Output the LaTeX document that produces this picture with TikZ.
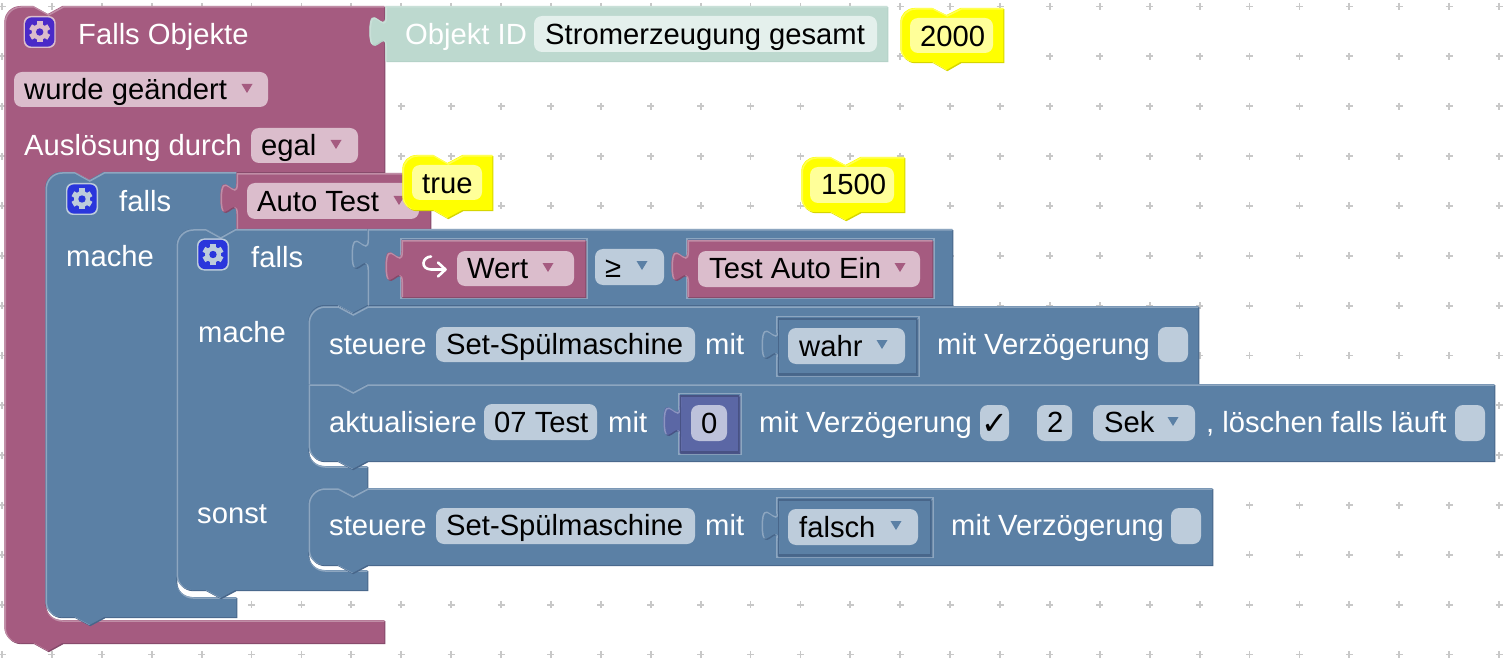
\documentclass[tikz,border=0pt]{standalone}
\usepackage{fontspec}
\setmainfont{Liberation Sans}
\newfontfamily\symfont{DejaVu Sans}
\definecolor{pur}{HTML}{A55B80}\definecolor{purD}{HTML}{84496A}\definecolor{purL}{HTML}{C08DA6}\definecolor{purF}{HTML}{DBBDCC}
\definecolor{blu}{HTML}{5B80A5}\definecolor{bluD}{HTML}{48668A}\definecolor{bluL}{HTML}{8DA6C0}\definecolor{bluF}{HTML}{BDCCDB}
\definecolor{num}{HTML}{5B67A5}\definecolor{numD}{HTML}{485284}\definecolor{numL}{HTML}{8C95C0}\definecolor{numF}{HTML}{BDC2DB}
\definecolor{obj}{HTML}{BDD9CF}\definecolor{objD}{HTML}{B5D2C8}\definecolor{objL}{HTML}{C9E0D8}\definecolor{objF}{HTML}{E4F0EC}
\definecolor{yel}{HTML}{FFFF00}\definecolor{yelD}{HTML}{D6D600}\definecolor{yelL}{HTML}{FFFF55}\definecolor{yelF}{HTML}{FFFF99}
\definecolor{tileA}{HTML}{4A2AC8}\definecolor{tileB}{HTML}{2A36DC}\definecolor{gridc}{HTML}{C8C8C8}
\newcount\nc
\newcommand\blk[2]{%
  \fill[#1D,shift={(0.3,1.2)}] #2;
  \begin{scope}[shift={(-0.7,0)}]
  \fill[#1] #2;
  \begin{scope}\clip #2; \draw[#1L,line width=1.5,shift={(1,1)}] #2; \end{scope}
  \end{scope}}
% corner pieces
\newcommand\TL[3]{(#1,#2+#3) .. controls (#1,#2+#3*.45) and (#1+#3*.45,#2) .. (#1+#3,#2)}
\newcommand\BL[3]{(#1+#3,#2) .. controls (#1+#3*.45,#2) and (#1,#2-#3*.45) .. (#1,#2-#3)}
\newcommand\MC[3]{(#1,#2-#3) .. controls (#1,#2-#3*.45) and (#1+#3*.45,#2) .. (#1+#3,#2)}
\newcommand\MT[3]{(#1+#3,#2) .. controls (#1+#3*.45,#2) and (#1,#2+#3*.45) .. (#1,#2+#3)}
\newcommand\tabup[2]{(#1,#2+29.7) .. controls (#1,#2+8.7) and (#1-16,#2+46.5) .. (#1-16,#2+14) .. controls (#1-16,#2-18.5) and (#1,#2+19.2) .. (#1,#2-1.7)}
\newcommand\txt[4][white]{\global\advance\nc by 1 \node[lbl,text=#1] (n\the\nc) at (#2,#3) {#4};}
\newcommand\fld[5]{\fill[#1F,rounded corners=8] (#2,#4) rectangle (#3,#5);}
\newcommand\arr[3]{\fill[#1] (#2-5.5,#3) -- (#2+5.5,#3) -- (#2,#3+9) -- cycle;}
\newcommand\gear[4]{%
  \fill[#4,rounded corners=7] (#1-16,#2-16) rectangle (#1+16,#2+16);
  \fill[#3,rounded corners=7] (#1-14.7,#2-14.7) rectangle (#1+14.7,#2+14.7);
  \foreach \a in {0,60,120} {\fill[#4,rotate around={\a:(#1,#2)}] (#1-2.8,#2-10.5) rectangle (#1+2.8,#2+10.5);}
  \fill[#4] (#1,#2) circle (8);
  \fill[#3] (#1,#2) circle (3.7);}
\newcommand\slot[4]{\draw[bluL,line width=1.5] (#1-1,#2-1.5) rectangle (#3+1,#4+1.5);}
\newcommand\inner[5]{\draw[#1,line width=1.1] (#2+.4,#3+1) rectangle (#4-1.4,#5-1);}
\tikzset{lbl/.style={anchor=base west,inner sep=0pt,font=\fontsize{29.2}{29.2}\selectfont}}
\begin{document}
\begin{tikzpicture}[x=1pt,y=-1pt]
\useasboundingbox (0,0) rectangle (1503,660);
\fill[white] (0,0) rectangle (1503,660);
% grid
\foreach \i in {0,...,30} \foreach \j in {0,...,13} {
  \draw[gridc,line width=1.8] ({2+49.9*\i-3.5},{6.5+49.85*\j}) -- ({2+49.9*\i+3.5},{6.5+49.85*\j});
  \draw[gridc,line width=1.8] ({2+49.9*\i},{6.5+49.85*\j-3.5}) -- ({2+49.9*\i},{6.5+49.85*\j+3.5});
}
% outer hat block
\blk{pur}{\TL{5}{6}{16} -- (34,6) -- (48.5,14) -- (63,6) -- (385,6) -- (385,172) -- (105,172) -- (90,180) -- (75,172) -- \MT{46}{172}{16} -- \MC{46}{620}{16} -- (385,620) -- (385,643) -- (63,643) -- (48.5,651) -- (34,643) -- \BL{5}{643}{16} -- cycle}
% Objekt ID
\blk{obj}{(386,6) -- (888,6) -- (888,61) -- (386,61) -- \tabup{386}{17} -- cycle}
\gear{39.7}{32}{tileA}{purF}
\txt{78}{45}{Falls Objekte}
\txt{405}{45}{Objekt ID}
\fld{obj}{534}{877}{16}{52}\txt[black]{545}{45}{Stromerzeugung gesamt}
\fld{pur}{14}{268}{72}{107}\txt[black]{24}{100}{wurde geändert}\arr{pur}{247}{84}
\txt{24}{156}{Auslösung durch}
\fld{pur}{251}{358}{128}{163}\txt[black]{261}{156}{egal}\arr{pur}{336}{140}
% falls 1
\blk{blu}{\TL{46}{172}{16} -- (75,172) -- (89.5,180) -- (104,172) -- (237,172) -- (237,229) -- (235,229) -- (220.5,237) -- (206,229) -- \MT{177}{229}{16} -- \MC{177}{597}{16} -- (237,597) -- (237,617) -- (105,617) -- (90,625) -- (75,617) -- \BL{46}{617}{16} -- cycle}
\blk{pur}{(237,173) -- (431,173) -- (431,229) -- (237,229) -- \tabup{237}{184} -- cycle}
\gear{82}{199}{tileB}{bluF}
\txt{119}{212}{falls}
\txt{66}{266}{mache}
\fld{pur}{247}{419}{183}{219}\txt[black]{257}{212}{Auto Test}\arr{pur}{399}{196}
% falls 2
\blk{blu}{\TL{177}{229}{16} -- (206,229) -- (220.5,237) -- (235,229) -- (368,229) -- (368,305) -- (353,313) -- (338,305) -- \MT{309}{305}{16} -- \MC{309}{466}{16} -- (368,466) -- (368,488) -- (353,496) -- (338,488) -- \MT{309}{488}{16} -- \MC{309}{570}{16} -- (368,570) -- (368,590) -- (236,590) -- (221,598) -- (206,590) -- \BL{177}{590}{16} -- cycle}
\blk{blu}{(368,229) -- (953,229) -- (953,305) -- (368,305) -- \tabup{368}{240} -- cycle}
\gear{213}{254.5}{tileB}{bluF}
\txt{251}{267}{falls}
\txt{198}{342}{mache}
\txt{197}{523}{sonst}
% Wert
\slot{402}{240}{586}{297}
\blk{pur}{(402,240) -- (586,240) -- (586,297) -- (402,297) -- \tabup{402}{252} -- cycle}
\draw[white,line width=2.6,line cap=round,line join=round] (431,256.5) .. controls (422,257) and (420,269) .. (431,269.5) -- (445,269.5);
\draw[white,line width=2.6,line cap=round,line join=round] (438,262.5) -- (445.5,269.5) -- (438,276.5);
\fld{pur}{457}{574}{251}{286}\txt[black]{467}{278}{Wert}\arr{pur}{548}{263}
\fld{blu}{595}{664}{249}{285}\txt[black]{605}{277}{≥}\arr{blu}{642}{261}
\slot{688}{240}{933}{297}
\blk{pur}{(688,240) -- (933,240) -- (933,297) -- (688,297) -- \tabup{688}{252} -- cycle}
\fld{pur}{698}{920}{251}{287}\txt[black]{709}{278}{Test Auto Ein}\arr{pur}{900}{263}
% steuere 1
\blk{blu}{\TL{309}{306}{16} -- (338,306) -- (353,314) -- (368,306) -- (1199,306) -- (1199,384) -- (368,384) -- (353,392) -- (338,384) -- (309,384) -- cycle}
\txt{329}{354}{steuere}
\fld{blu}{436}{695}{327}{362}\txt[black]{446}{354}{Set-Spülmaschine}
\txt{705}{354}{mit}
\slot{778}{318}{918}{375}
\blk{blu}{(778,318) -- (918,318) -- (918,375) -- (778,375) -- \tabup{778}{330} -- cycle}
\inner{bluD}{778}{318}{918}{375}
\fld{blu}{788}{905}{328}{364}\txt[black]{799}{356}{wahr}\arr{blu}{882}{340}
\txt{937}{354}{mit Verzögerung}
\fld{blu}{1158}{1188}{327}{362}
% aktualisiere
\blk{blu}{(309,384) -- (338,384) -- (353,392) -- (368,384) -- (1495,384) -- (1495,461) -- (368,461) -- (353,469) -- (338,461) -- \BL{309}{461}{16} -- cycle}
\txt{329}{432}{aktualisiere}
\fld{blu}{484}{597}{404}{440}\txt[black]{494}{432}{07 Test}
\txt{608}{432}{mit}
\slot{680}{395}{740}{453}
\blk{num}{(680,395) -- (740,395) -- (740,453) -- (680,453) -- \tabup{680}{407} -- cycle}
\inner{numD}{680}{395}{740}{453}
\fld{num}{691}{727}{405}{441}\txt[black]{701}{433}{0}
\txt{759}{432}{mit Verzögerung}
\fld{blu}{980}{1009}{405}{441}\global\advance\nc by 1 \node[lbl,text=black,font=\fontsize{32}{32}\symfont] (n\the\nc) at (981,434) {✓};
\fld{blu}{1037}{1072}{405}{441}\txt[black]{1047}{432}{2}
\fld{blu}{1093}{1195}{405}{441}\txt[black]{1104}{432}{Sek}\arr{blu}{1173}{417}
\txt{1206}{432}{, löschen falls läuft}
\fld{blu}{1455}{1485}{405}{441}
% steuere 2
\blk{blu}{\TL{309}{488}{16} -- (338,488) -- (353,496) -- (368,488) -- (1213,488) -- (1213,565) -- (368,565) -- (353,573) -- (338,565) -- \BL{309}{565}{16} -- cycle}
\txt{329}{535}{steuere}
\fld{blu}{436}{695}{508}{544}\txt[black]{446}{535}{Set-Spülmaschine}
\txt{705}{535}{mit}
\slot{778}{499}{932}{556}
\blk{blu}{(778,499) -- (932,499) -- (932,556) -- (778,556) -- \tabup{778}{511} -- cycle}
\inner{bluD}{778}{499}{932}{556}
\fld{blu}{788}{918}{509}{545}\txt[black]{799}{537}{falsch}\arr{blu}{896}{521}
\txt{951}{535}{mit Verzögerung}
\fld{blu}{1171}{1201}{508}{544}
% yellow shadow blocks
\blk{yel}{\TL{901}{8}{14} -- (933,8) -- (947,15) -- (961,8) -- (1004,8) -- (1004,62) -- (961,62) -- (947,70) -- (933,62) -- \BL{901}{62}{14} -- cycle}
\fld{yel}{910}{993}{18}{53}\txt[black]{920}{47}{2000}
\blk{yel}{\TL{403}{155}{14} -- (434,155) -- (448,163) -- (463,155) -- (493,155) -- (493,210) -- (463,210) -- (448,218) -- (434,210) -- \BL{403}{210}{14} -- cycle}
\fld{yel}{412}{482}{165}{200}\txt[black]{422}{193.5}{true}
\blk{yel}{\TL{802}{157}{14} -- (831,157) -- (846,165) -- (861,157) -- (905,157) -- (905,212) -- (861,212) -- (846,220) -- (831,212) -- \BL{802}{212}{14} -- cycle}
\fld{yel}{810}{894}{167}{203}\txt[black]{821}{195}{1500}
\end{tikzpicture}
\end{document}
